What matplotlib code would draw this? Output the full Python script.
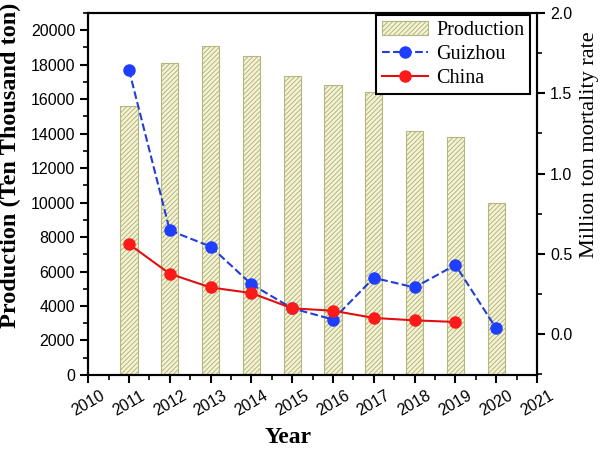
import numpy as np
import matplotlib
matplotlib.use('Agg')
from matplotlib import pyplot as plt
from matplotlib.ticker import MultipleLocator

# data
years = [2011, 2012, 2013, 2014, 2015, 2016, 2017, 2018, 2019, 2020]
production = [15600, 18100, 19100, 18500, 17350, 16850, 16400, 14150, 13800, 10000]
guizhou = [1.645, 0.645, 0.545, 0.31, 0.16, 0.09, 0.35, 0.29, 0.43, 0.035]
china_years = [2011, 2012, 2013, 2014, 2015, 2016, 2017, 2018, 2019]
china = [0.56, 0.375, 0.29, 0.255, 0.16, 0.145, 0.10, 0.085, 0.075]

plt.rcParams['hatch.color'] = '#b5b57e'
plt.rcParams['hatch.linewidth'] = 0.7

fig = plt.figure(figsize=(6, 4.49), dpi=100)
ax = fig.add_axes([0.147, 0.165, 0.748, 0.806])
ax2 = ax.twinx()

bars = ax.bar(years, production, width=0.42, color='#f5f3d6', edgecolor='#b5b57e',
              hatch='///////', linewidth=0.8, label='Production', zorder=1)
l1, = ax2.plot(years, guizhou, '--o', color='#1f3fd6', markerfacecolor='#1f3fff',
               markeredgecolor='#1f3fff', markersize=8, linewidth=1.5, label='Guizhou')
l2, = ax2.plot(china_years, china, '-o', color='#e01010', markerfacecolor='#ff1a1a',
               markeredgecolor='#ff1a1a', markersize=8, linewidth=1.5, label='China')

ax.set_xlim(2010, 2021)
ax.set_ylim(0, 21000)
ax2.set_ylim(-0.255, 2.0)

ax.xaxis.set_major_locator(MultipleLocator(1))
ax.xaxis.set_minor_locator(MultipleLocator(0.5))
ax.yaxis.set_major_locator(MultipleLocator(2000))
ax.yaxis.set_minor_locator(MultipleLocator(1000))
ax2.yaxis.set_minor_locator(MultipleLocator(0.25))
ax2.set_yticks([0.0, 0.5, 1.0, 1.5, 2.0])

tick_font = 'Liberation Sans'
for a in (ax, ax2):
    for s in a.spines.values():
        s.set_linewidth(1.5)
    a.tick_params(which='major', direction='out', length=6, width=1.5, labelsize=11.5)
    a.tick_params(which='minor', direction='out', length=3.5, width=1.2)

ax.set_xticks(range(2010, 2022))
ax.set_xticklabels([str(y) for y in range(2010, 2022)], rotation=30, fontfamily=tick_font,
                   fontsize=11.5)
ax.set_yticks(range(0, 20001, 2000))
ax.set_yticklabels([str(v) for v in range(0, 20001, 2000)], fontfamily=tick_font,
                   fontsize=11.5)
ax2.set_yticklabels(['0.0', '0.5', '1.0', '1.5', '2.0'], fontfamily=tick_font, fontsize=11.5)

ax.set_xlabel('Year', fontfamily='Liberation Serif', fontweight='bold', fontsize=17)
ax.xaxis.set_label_coords(0.445, -0.145)
ax.set_ylabel('Production (Ten Thousand ton)', fontfamily='Liberation Serif',
              fontweight='bold', fontsize=17.5)
ax.yaxis.set_label_coords(-0.15, 0.58)
ax2.set_ylabel('Million ton mortality rate', fontfamily='Liberation Serif', fontsize=16)
ax2.yaxis.set_label_coords(1.095, 0.635)

leg = ax2.legend([bars, l1, l2], ['Production', 'Guizhou', 'China'], loc='upper right',
                 bbox_to_anchor=(0.99, 1.0),
                 prop={'family': 'Liberation Serif', 'size': 14.5}, fancybox=False,
                 framealpha=1, edgecolor='black', borderaxespad=0.1, handlelength=2.3,
                 labelspacing=0.25, borderpad=0.3, handletextpad=0.4)
leg.get_frame().set_linewidth(1.5)

fig.savefig('out.png', dpi=100)
